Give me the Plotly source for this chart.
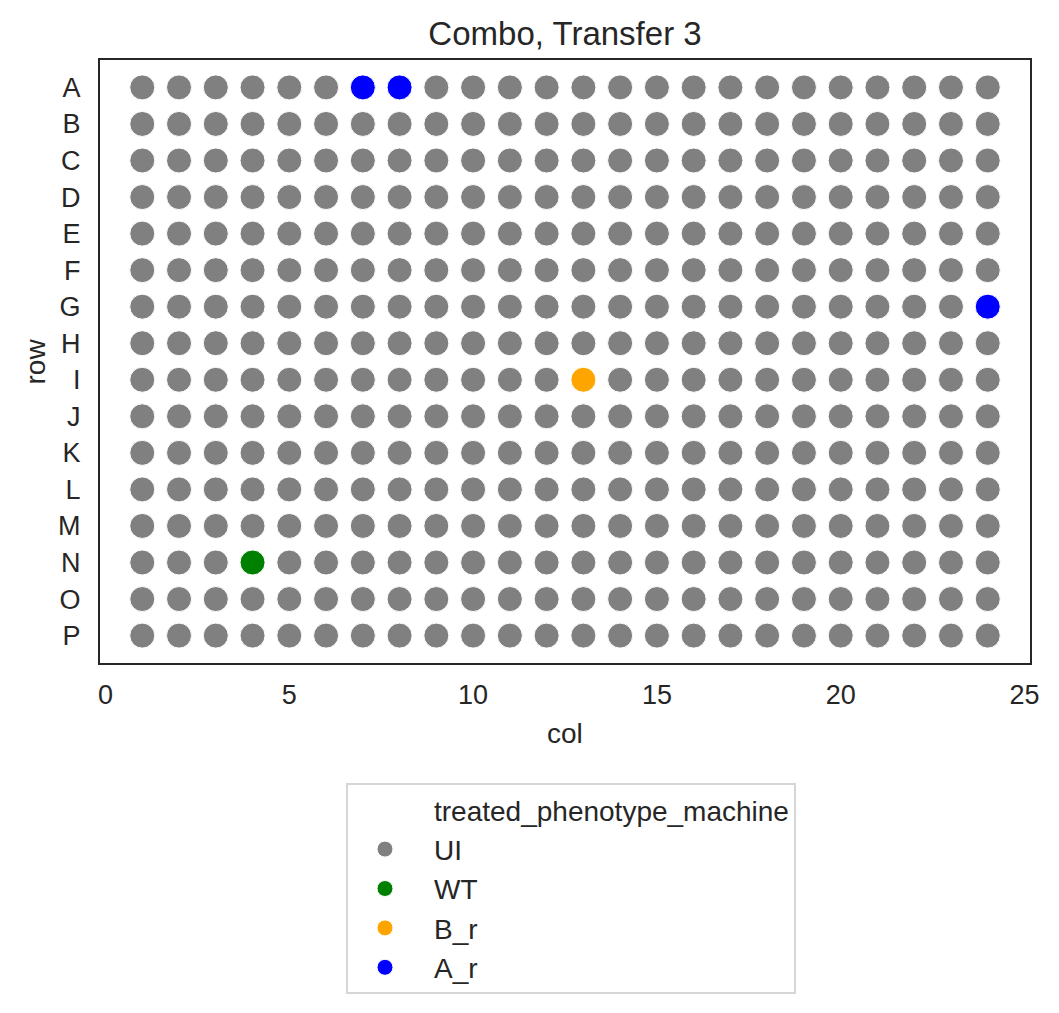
import plotly.graph_objects as go

# ---- data ----
rows = list("ABCDEFGHIJKLMNOP")
cols = list(range(1, 25))
phenotypes = ["UI", "WT", "B_r", "A_r"]
colors = {"UI": "gray", "WT": "green", "B_r": "orange", "A_r": "blue"}
special_wells = {
    "WT": [("N", 4)],
    "B_r": [("I", 13)],
    "A_r": [("A", 7), ("A", 8), ("G", 24)],
}
xticks = [0, 5, 10, 15, 20, 25]

# assign phenotype per well
well_pheno = {}
for r in rows:
    for c in cols:
        well_pheno[(r, c)] = "UI"
for ph, wells in special_wells.items():
    for w in wells:
        well_pheno[w] = ph

TXT = "#262626"
FONT = "Liberation Sans, Arial, sans-serif"

fig = go.Figure()
# legend title as invisible entry (seaborn style)
fig.add_trace(go.Scatter(x=[None], y=[None], mode="markers", name="treated_phenotype_machine",
                         marker=dict(color="rgba(0,0,0,0)", size=1), legendgroup="title",
                         showlegend=True, hoverinfo="skip"))
for ph in phenotypes:
    xs = [c for (r, c), p in well_pheno.items() if p == ph]
    ys = [r for (r, c), p in well_pheno.items() if p == ph]
    fig.add_trace(go.Scatter(
        x=xs, y=ys, mode="markers", name=ph, legendgroup=ph,
        marker=dict(color=colors[ph], size=25, line=dict(color="white", width=1)),
    ))

fig.update_layout(
    width=1059, height=1013,
    margin=dict(l=100, r=29, t=60, b=350, autoexpand=False),
    plot_bgcolor="white", paper_bgcolor="white",
    font=dict(family=FONT, color=TXT, size=27),
    title=dict(text="Combo, Transfer 3", x=0.5, xref="paper", xanchor="center",
               y=1 - 33 / 1013, yref="container", yanchor="middle",
               font=dict(size=33, color=TXT)),
    legend=dict(
        xref="container", yref="container",
        x=346 / 1059, y=1 - 783 / 1013, xanchor="left", yanchor="top",
        bordercolor="#d6d6d6", borderwidth=2, bgcolor="white",
        font=dict(size=28, color=TXT), tracegroupgap=0,
        indentation=-12, itemwidth=88,
    ),
    annotations=[
        dict(text="col", xref="paper", yref="paper", x=0.5, y=(663 - 733) / 603,
             xanchor="center", yanchor="middle", showarrow=False,
             font=dict(size=28, color=TXT)),
        dict(text="row", xref="paper", yref="paper", x=(35 - 100) / 930, y=0.5,
             xanchor="center", yanchor="middle", showarrow=False, textangle=-90,
             font=dict(size=28, color=TXT)),
    ],
)
fig.update_xaxes(
    range=[-0.15, 25.15], tickvals=xticks, ticktext=[str(t) for t in xticks],
    showgrid=False, zeroline=False, showline=True, linecolor=TXT, linewidth=2, mirror=True,
    ticks="", ticklabelstandoff=7, tickfont=dict(size=27),
)
fig.update_yaxes(
    type="category", categoryorder="array", categoryarray=rows,
    range=[len(rows) - 0.25, -0.75],
    showgrid=False, zeroline=False, showline=True, linecolor=TXT, linewidth=2, mirror=True,
    ticks="", ticklabelstandoff=12, tickfont=dict(size=27),
)

fig.write_html("out.html")
